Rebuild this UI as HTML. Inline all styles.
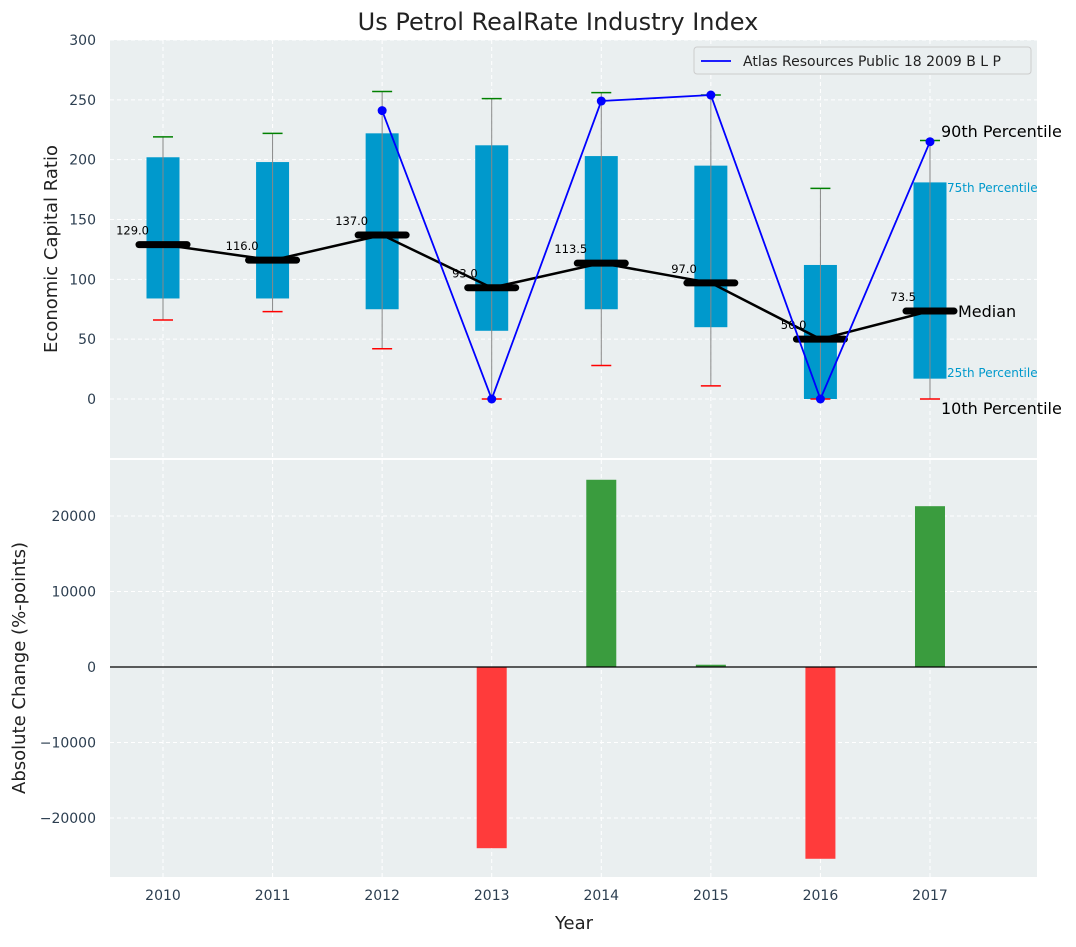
<!DOCTYPE html>
<html><head><meta charset="utf-8"><style>
body{margin:0;background:#fff;}
svg{font-family:"DejaVu Sans","Liberation Sans",sans-serif;}
</style></head><body>
<svg id="c" width="1076" height="942" xmlns="http://www.w3.org/2000/svg"></svg>
<script>
const years=[2010,2011,2012,2013,2014,2015,2016,2017];
const q25=[84,84,75,57,75,60,0,17];
const q75=[202,198,222,212,203,195,112,181];
const p10=[66,73,42,0,28,11,0,0];
const p90=[219,222,257,251,256,254,176,216];
const medians=[129,116,137,93,113.5,97,50,73.5];
const atlas=[null,null,241,0,249,254,0,215];
const changes=[0,0,0,-24000,24800,300,-25400,21300];
const topTicks=[0,50,100,150,200,250,300];
const botTicks=[-20000,-10000,0,10000,20000];

const svg=document.getElementById('c');
const NS='http://www.w3.org/2000/svg';
function mk(t,a,p){const e=document.createElementNS(NS,t);for(const k in a)e.setAttribute(k,a[k]);(p||svg).appendChild(e);return e;}
const L=110,R=1037;
const xs=i=>163+i*109.57;
const yT=v=>399-v*1.1967;
const yB=v=>667-v*0.00755;
const fmt=v=>v<0?'\u2212'+Math.abs(v):String(v);

let bg=mk('rect',{x:L,y:40,width:R-L,height:418,fill:'#eaeff0'});


let bg2=mk('rect',{x:L,y:460,width:R-L,height:417,fill:'#eaeff0'});



topTicks.forEach(v=>{
  mk('line',{x1:L,x2:R,y1:yT(v),y2:yT(v),stroke:'#fff','stroke-dasharray':'4,3'});
  const t=mk('text',{x:96,y:yT(v)+5,'text-anchor':'end','font-size':14,fill:'#2c3e50'});t.textContent=fmt(v);
  
  
});
botTicks.forEach(v=>{
  mk('line',{x1:L,x2:R,y1:yB(v),y2:yB(v),stroke:'#fff','stroke-dasharray':'4,3'});
  const t=mk('text',{x:96,y:yB(v)+5,'text-anchor':'end','font-size':14,fill:'#2c3e50'});t.textContent=fmt(v);
  
  
});
years.forEach((y,i)=>{
  mk('line',{x1:xs(i),x2:xs(i),y1:40,y2:458,stroke:'#fff','stroke-dasharray':'4,3'});
  mk('line',{x1:xs(i),x2:xs(i),y1:460,y2:877,stroke:'#fff','stroke-dasharray':'4,3'});
  const t=mk('text',{x:xs(i),y:900,'text-anchor':'middle','font-size':14,fill:'#2c3e50'});t.textContent=y;
  
  
});

years.forEach((y,i)=>{
  const x=xs(i),bw=33;
  const b=mk('rect',{x:x-bw/2,y:yT(q75[i]),width:bw,height:yT(q25[i])-yT(q75[i]),fill:'#0099cc'});
  
  
  mk('line',{x1:x,x2:x,y1:yT(p10[i]),y2:yT(p90[i]),stroke:'#888','stroke-width':1});
  mk('line',{x1:x-10,x2:x+10,y1:yT(p10[i]),y2:yT(p10[i]),stroke:'red','stroke-width':1.5});
  mk('line',{x1:x-10,x2:x+10,y1:yT(p90[i]),y2:yT(p90[i]),stroke:'green','stroke-width':1.5});
});
let md='';medians.forEach((m,i)=>{md+=(i?'L':'M')+xs(i)+','+yT(m);});
const ml=mk('path',{d:md,fill:'none',stroke:'#000','stroke-width':2.5});


medians.forEach((m,i)=>{
  const x=xs(i);
  const s=mk('line',{x1:x-24,x2:x+24,y1:yT(m),y2:yT(m),stroke:'#000','stroke-width':7,'stroke-linecap':'round'});
  
  
  const t=mk('text',{x:x-14,y:yT(m)-10,'text-anchor':'end','font-size':11.5,fill:'#000'});t.textContent=m.toFixed(1);
  
  
});
let ad='',st=false;atlas.forEach((v,i)=>{if(v===null)return;ad+=(st?'L':'M')+xs(i)+','+yT(v);st=true;});
const al=mk('path',{d:ad,fill:'none',stroke:'blue','stroke-width':1.8});


atlas.forEach((v,i)=>{if(v===null)return;
  const c=mk('circle',{cx:xs(i),cy:yT(v),r:4.5,fill:'blue'});
  
  
});
function ann(txt,x,y,size,col,name){const t=mk('text',{x:x,y:y,'font-size':size,fill:col});t.textContent=txt;
  
  }
ann('90th Percentile',941,137,16,'#000','annotation-p90');
ann('75th Percentile',947,192,12,'#0099cc','annotation-p75');
ann('Median',958,317,16,'#000','annotation-median');
ann('25th Percentile',947,377,12,'#0099cc','annotation-p25');
ann('10th Percentile',941,414,16,'#000','annotation-p10');

changes.forEach((v,i)=>{if(!v)return;
  const y0=yB(0),y1=yB(v);
  const b=mk('rect',{x:xs(i)-15,y:Math.min(y0,y1),width:30,height:Math.abs(y1-y0),fill:v>0?'#3a9c3e':'#ff3b3b'});
  
  
});
mk('line',{x1:L,x2:R,y1:yB(0),y2:yB(0),stroke:'#000','stroke-width':1.2});

const lg=mk('g',{});


mk('rect',{x:694,y:47,width:337,height:27,fill:'#eaeff0',stroke:'#ccc',rx:3},lg);
mk('line',{x1:701,x2:731,y1:61,y2:61,stroke:'blue','stroke-width':1.8},lg);
const lt=mk('text',{x:743,y:66,'font-size':14,fill:'#222'},lg);lt.textContent='Atlas Resources Public 18 2009 B L P';

ann('Us Petrol RealRate Industry Index',558,30,24,'#222','chart-title');
svg.lastChild.setAttribute('text-anchor','middle');
ann('Year',574,929,18,'#222','x-axis-title');
svg.lastChild.setAttribute('text-anchor','middle');
let t1=mk('text',{x:0,y:0,'font-size':18,fill:'#222','text-anchor':'middle',transform:'translate(57,249) rotate(-90)'});t1.textContent='Economic Capital Ratio';


let t2=mk('text',{x:0,y:0,'font-size':18,fill:'#222','text-anchor':'middle',transform:'translate(25,668) rotate(-90)'});t2.textContent='Absolute Change (%-points)';


</script>
</body></html>
